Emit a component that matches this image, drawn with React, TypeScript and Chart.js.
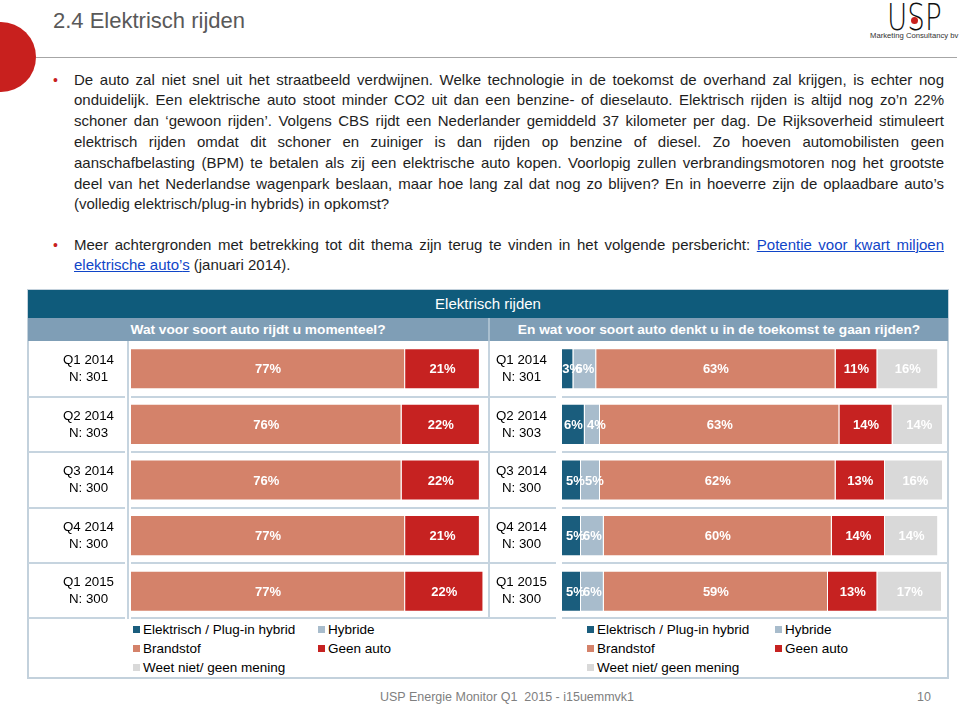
import React, { useEffect, useRef } from 'react';
import { Chart, registerables } from 'chart.js';

Chart.register(...registerables);

const FONT = '"Liberation Sans", Arial, Helvetica, sans-serif';

// ---------- data ----------
const PERIODS = ['Q1 2014', 'Q2 2014', 'Q3 2014', 'Q4 2014', 'Q1 2015'];
const SAMPLE_SIZES = ['N: 301', 'N: 303', 'N: 300', 'N: 300', 'N: 300'];
const SERIES_NAMES = ['Elektrisch / Plug-in hybrid', 'Hybride', 'Brandstof', 'Geen auto', 'Weet niet/ geen mening'];
const SERIES_COLORS = ['#1a5d7d', '#a8bccc', '#d4826a', '#c62221', '#d9d9d9'];

// "Wat voor soort auto rijdt u momenteel?"
const NOW_ELEKTRISCH = [0, 0, 0, 0, 0];
const NOW_HYBRIDE = [0, 0, 0, 0, 0];
const NOW_BRANDSTOF = [77, 76, 76, 77, 77];
const NOW_GEEN_AUTO = [21, 22, 22, 21, 22];
const NOW_WEET_NIET = [0, 0, 0, 0, 0];

// "En wat voor soort auto denkt u in de toekomst te gaan rijden?"
const FUT_ELEKTRISCH = [3, 6, 5, 5, 5];
const FUT_HYBRIDE = [6, 4, 5, 6, 6];
const FUT_BRANDSTOF = [63, 63, 62, 60, 59];
const FUT_GEEN_AUTO = [11, 14, 13, 14, 13];
const FUT_WEET_NIET = [16, 14, 16, 14, 17];

const GRID = '#c6d4df';
const DARK_BAND = '#0f5b7b';
const SUB_BAND = '#7f9eb6';

// ---------- plugins ----------
const rowLines = {
  id: 'rowLines',
  beforeDatasetsDraw(chart: any) {
    const { ctx, chartArea, scales } = chart;
    const y = scales.y;
    const n = chart.data.labels.length;
    ctx.save();
    ctx.strokeStyle = GRID;
    ctx.lineWidth = 2;
    for (let i = 1; i <= n; i++) {
      let py = Math.round(y.getPixelForValue(i - 0.5));
      if (i === n) py = chartArea.bottom - 1;
      ctx.beginPath();
      ctx.moveTo(0, py);
      ctx.lineTo(chartArea.left - 6, py);
      ctx.moveTo(chartArea.left, py);
      ctx.lineTo(chart.width, py);
      ctx.stroke();
    }
    ctx.restore();
  },
};

const segLabels = {
  id: 'segLabels',
  afterDatasetsDraw(chart: any) {
    const { ctx } = chart;
    ctx.save();
    ctx.font = `bold 13px ${FONT}`;
    ctx.fillStyle = '#ffffff';
    ctx.textAlign = 'center';
    ctx.textBaseline = 'middle';
    chart.data.datasets.forEach((ds: any, di: number) => {
      const meta = chart.getDatasetMeta(di);
      meta.data.forEach((el: any, i: number) => {
        const v = ds.data[i];
        if (!v) return;
        const { x, base, y } = el.getProps(['x', 'base', 'y'], true);
        const txt = v + '%';
        const w = ctx.measureText(txt).width;
        let cx = (x + base) / 2;
        if (Math.abs(x - base) < w + 4) cx += 4;
        ctx.fillText(txt, cx, y + 1);
      });
    });
    ctx.restore();
  },
};

type ChartProps = {
  left: number;
  top: number;
  width: number;
  height: number;
  axisWidth: number;
  areaWidth: number;
  tickPad: number;
  max: number;
  series: number[][];
};

function StackChart({ left, top, width, height, axisWidth, areaWidth, tickPad, max, series }: ChartProps) {
  const ref = useRef<HTMLCanvasElement>(null);
  useEffect(() => {
    const chart = new Chart(ref.current as HTMLCanvasElement, {
      type: 'bar',
      data: {
        labels: PERIODS.map((p, i) => [p, SAMPLE_SIZES[i]]),
        datasets: series.map((d, k) => ({
          label: SERIES_NAMES[k],
          data: d,
          backgroundColor: SERIES_COLORS[k],
          borderColor: '#ffffff',
          borderWidth: 1,
          borderSkipped: 'start',
          barPercentage: 0.74,
          categoryPercentage: 1,
        })),
      },
      options: {
        indexAxis: 'y',
        responsive: false,
        maintainAspectRatio: false,
        animation: false,
        layout: { padding: { left: 0, right: width - axisWidth - areaWidth, top: 0, bottom: 0 } },
        scales: {
          x: { stacked: true, min: 0, max, display: false },
          y: {
            stacked: true,
            grid: { display: false, drawTicks: false },
            border: { display: false },
            ticks: {
              crossAlign: 'center',
              padding: tickPad,
              color: '#000000',
              font: { family: FONT, size: 13.3, lineHeight: 1.27 },
            },
            afterFit: (s: any) => {
              s.width = axisWidth;
              s.paddingTop = 0;
              s.paddingBottom = 0;
            },
          },
        },
        plugins: { legend: { display: false }, tooltip: { enabled: false } },
      } as any,
      plugins: [rowLines, segLabels],
    });
    return () => chart.destroy();
  }, []);
  return (
    <canvas
      ref={ref}
      width={width}
      height={height}
      style={{ position: 'absolute', left, top, width, height }}
    />
  );
}

function Legend({ x1, x2 }: { x1: number; x2: number }) {
  const pos = [
    [x1, 629],
    [x2, 629],
    [x1, 648],
    [x2, 648],
    [x1, 667],
  ];
  return (
    <>
      {SERIES_NAMES.map((name, k) => (
        <React.Fragment key={k}>
          <div
            style={{
              position: 'absolute',
              left: pos[k][0],
              top: pos[k][1] - 3,
              width: 7,
              height: 7,
              background: SERIES_COLORS[k],
            }}
          />
          <div
            style={{
              position: 'absolute',
              left: pos[k][0] + 10,
              top: pos[k][1] - 9.5,
              height: 19,
              lineHeight: '19px',
              fontSize: 13.5,
              color: '#000',
              whiteSpace: 'nowrap',
            }}
          >
            {name}
          </div>
        </React.Fragment>
      ))}
    </>
  );
}

const BODY_LINES = [
  'De auto zal niet snel uit het straatbeeld verdwijnen. Welke technologie in de toekomst de overhand zal krijgen, is echter nog',
  'onduidelijk. Een elektrische auto stoot minder CO2 uit dan een benzine- of dieselauto. Elektrisch rijden is altijd nog zo\u2019n 22%',
  'schoner dan \u2018gewoon rijden\u2019. Volgens CBS rijdt een Nederlander gemiddeld 37 kilometer per dag. De Rijksoverheid stimuleert',
  'elektrisch rijden omdat dit schoner en zuiniger is dan rijden op benzine of diesel. Zo hoeven automobilisten geen',
  'aanschafbelasting (BPM) te betalen als zij een elektrische auto kopen. Voorlopig zullen verbrandingsmotoren nog het grootste',
  'deel van het Nederlandse wagenpark beslaan, maar hoe lang zal dat nog zo blijven? En in hoeverre zijn de oplaadbare auto\u2019s',
  '(volledig elektrisch/plug-in hybrids) in opkomst?',
];

const LH = 20.8;

function Line({ top, justify, children }: { top: number; justify: boolean; children: React.ReactNode }) {
  return (
    <div
      style={{
        position: 'absolute',
        left: 74,
        top,
        width: 870,
        height: LH,
        lineHeight: LH + 'px',
        fontSize: 15,
        color: '#1e1e1e',
        whiteSpace: 'nowrap',
        textAlign: justify ? 'justify' : 'left',
        textAlignLast: justify ? 'justify' : 'left',
      } as any}
    >
      {children}
    </div>
  );
}

function Bullet({ y }: { y: number }) {
  return (
    <div
      style={{
        position: 'absolute',
        left: 53,
        top: y - LH / 2,
        lineHeight: LH + 'px',
        fontSize: 14,
        color: '#c8201e',
      }}
    >
      {'\u2022'}
    </div>
  );
}

const linkStyle: React.CSSProperties = { color: '#1045c8', textDecoration: 'underline' };

export default function App() {
  return (
    <div
      style={{
        position: 'fixed',
        left: 0,
        top: 0,
        width: 960,
        height: 706,
        background: '#ffffff',
        overflow: 'hidden',
        fontFamily: FONT,
      }}
    >
      {/* red circle */}
      <div
        style={{
          position: 'absolute',
          left: -34,
          top: 22,
          width: 70,
          height: 70,
          borderRadius: '50%',
          background: '#c8201e',
        }}
      />
      {/* title */}
      <div
        style={{
          position: 'absolute',
          left: 53,
          top: 10,
          fontSize: 22,
          lineHeight: '22px',
          color: '#595959',
          whiteSpace: 'nowrap',
        }}
      >
        2.4 Elektrisch rijden
      </div>
      <div style={{ position: 'absolute', left: 36, top: 57, width: 921, height: 1, background: '#a6a6a6' }} />

      {/* logo */}
      <div
        style={{
          position: 'absolute',
          left: 887,
          top: -2,
          fontFamily: '"DejaVu Sans", sans-serif',
          fontWeight: 200,
          fontSize: 38,
          lineHeight: '38px',
          color: '#111',
          transform: 'scaleX(0.73)',
          transformOrigin: 'left top',
          whiteSpace: 'nowrap',
        }}
      >
        USP
      </div>
      <div
        style={{
          position: 'absolute',
          left: 910.5,
          top: 16.5,
          width: 7,
          height: 7,
          borderRadius: '50%',
          background: '#c8201e',
        }}
      />
      <div
        style={{
          position: 'absolute',
          left: 870,
          top: 31,
          fontSize: 7.7,
          lineHeight: '10px',
          color: '#333',
          whiteSpace: 'nowrap',
        }}
      >
        Marketing Consultancy bv
      </div>

      {/* body text */}
      <Bullet y={80} />
      {BODY_LINES.map((t, i) => (
        <Line key={i} top={80 + i * LH - LH / 2} justify={i < BODY_LINES.length - 1}>
          {t}
        </Line>
      ))}
      <Bullet y={245} />
      <Line top={245 - LH / 2} justify={true}>
        Meer achtergronden met betrekking tot dit thema zijn terug te vinden in het volgende persbericht:{' '}
        <span style={linkStyle}>Potentie voor kwart miljoen</span>
      </Line>
      <Line top={245 + LH - LH / 2} justify={false}>
        <span style={linkStyle}>elektrische auto{'\u2019'}s</span> (januari 2014).
      </Line>

      {/* table frame */}
      <div
        style={{
          position: 'absolute',
          left: 27,
          top: 289,
          width: 922,
          height: 390,
          border: '2px solid #c3d1dc',
          boxSizing: 'border-box',
        }}
      />
      <div
        style={{
          position: 'absolute',
          left: 28,
          top: 290,
          width: 920,
          height: 28,
          background: DARK_BAND,
          color: '#fff',
          fontSize: 15,
          lineHeight: '28px',
          textAlign: 'center',
        }}
      >
        Elektrisch rijden
      </div>
      <div style={{ position: 'absolute', left: 28, top: 318, width: 920, height: 23, background: SUB_BAND }} />
      <div
        style={{
          position: 'absolute',
          left: 28,
          top: 318,
          width: 460,
          height: 23,
          lineHeight: '23px',
          textAlign: 'center',
          color: '#fff',
          fontWeight: 'bold',
          fontSize: 13.7,
          whiteSpace: 'nowrap',
        }}
      >
        Wat voor soort auto rijdt u momenteel?
      </div>
      <div
        style={{
          position: 'absolute',
          left: 490,
          top: 318,
          width: 458,
          height: 23,
          lineHeight: '23px',
          textAlign: 'center',
          color: '#fff',
          fontWeight: 'bold',
          fontSize: 13.7,
          whiteSpace: 'nowrap',
        }}
      >
        En wat voor soort auto denkt u in de toekomst te gaan rijden?
      </div>
      <div style={{ position: 'absolute', left: 488, top: 318, width: 2, height: 23, background: '#a9bfcf' }} />

      <StackChart
        left={28}
        top={341}
        width={460}
        height={278}
        axisWidth={103}
        areaWidth={356}
        tickPad={17}
        max={100}
        series={[NOW_ELEKTRISCH, NOW_HYBRIDE, NOW_BRANDSTOF, NOW_GEEN_AUTO, NOW_WEET_NIET]}
      />
      <StackChart
        left={490}
        top={341}
        width={458}
        height={278}
        axisWidth={72}
        areaWidth={380}
        tickPad={15}
        max={100}
        series={[FUT_ELEKTRISCH, FUT_HYBRIDE, FUT_BRANDSTOF, FUT_GEEN_AUTO, FUT_WEET_NIET]}
      />
      <div style={{ position: 'absolute', left: 488, top: 341, width: 2, height: 278, background: GRID }} />
      <div style={{ position: 'absolute', left: 127, top: 341, width: 2, height: 278, background: GRID }} />

      <Legend x1={133} x2={318} />
      <Legend x1={587} x2={775} />

      {/* footer */}
      <div
        style={{
          position: 'absolute',
          left: 380,
          top: 689,
          fontSize: 12.5,
          lineHeight: '16px',
          color: '#808080',
          whiteSpace: 'pre',
        }}
      >
        {'USP Energie Monitor Q1  2015 - i15uemmvk1'}
      </div>
      <div
        style={{
          position: 'absolute',
          left: 917,
          top: 689,
          fontSize: 12.5,
          lineHeight: '16px',
          color: '#808080',
        }}
      >
        10
      </div>
    </div>
  );
}
